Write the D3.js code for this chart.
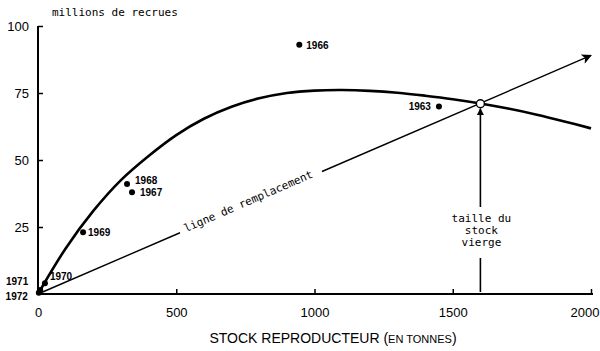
<!DOCTYPE html>
<html><head><meta charset="utf-8">
<script src="https://cdn.jsdelivr.net/npm/d3@7"></script>
<style>body{margin:0;background:#fff}svg{display:block}</style>
</head><body>
<svg id="c" width="600" height="351"></svg>
<script>
// Data
const years = ["1966","1963","1968","1967","1969","1970","1971","1972"];
const stock = [945, 1450, 322, 340, 163, 25, 8, 3];
const recruits = [93, 70, 41, 38, 23, 4, 1.5, 0.5];
const curveStock = [0,100,200,300,400,500,600,700,800,900,1000,1100,1200,1300,1400,1500,1600,1700,1800,1900,2000];
const curveRecruits = [0,17,31,42.5,51.5,59.3,65.4,69.9,73,75,75.9,76.1,75.8,75.1,74,72.7,71.1,69.2,67,64.5,61.8];
const replStock = [0, 2000];
const replRecruits = [0, 89];
const virginStock = 1600, virginRecruits = 71;
const xTicks = [0,500,1000,1500,2000];
const yTicks = [25,50,75,100];

const svg = d3.select("#c");
const x = d3.scaleLinear().domain([0,2000]).range([38,591]);
const y = d3.scaleLinear().domain([0,100]).range([294,26]);
const sans = "Liberation Sans, Arial, sans-serif";
const mono = "DejaVu Sans Mono, Liberation Mono, monospace";

// Axes
const xAxis = d3.axisBottom(x).tickValues(xTicks).tickSize(-5).tickFormat(d=>d);
const gx = svg.append("g").attr("transform",`translate(0,${y(0)})`).call(xAxis);
gx.select(".domain").attr("d",`M${x(0)},0H${x(2000)+2}`).attr("stroke-width",2);
gx.selectAll(".tick line").attr("stroke-width",1.5);
gx.selectAll(".tick text").attr("y",14).attr("font-family",sans).attr("font-size",13).attr("fill","#000");
gx.selectAll(".tick text").filter(d=>d===2000).attr("text-anchor","end").attr("x",599-x(2000));

const yAxis = d3.axisLeft(y).tickValues(yTicks).tickSize(-5).tickFormat(d=>d);
const gy = svg.append("g").attr("transform",`translate(${x(0)},0)`).call(yAxis);
gy.select(".domain").attr("d",`M0,${y(0)}V${y(100)}`).attr("stroke-width",2);
gy.selectAll(".tick line").attr("stroke-width",1.5);
gy.selectAll(".tick text").attr("x",-9).attr("font-family",sans).attr("font-size",13).attr("fill","#000");

// Axis titles
svg.append("text").attr("x",52).attr("y",16).attr("font-family",mono).attr("font-size",11)
  .text("millions de recrues");
const xt = svg.append("text").attr("x",333).attr("y",343).attr("text-anchor","middle")
  .attr("font-family","Liberation Sans Narrow, "+sans).attr("font-size",14);
xt.append("tspan").text("STOCK REPRODUCTEUR (");
xt.append("tspan").attr("font-size",11).text("EN TONNES");
xt.append("tspan").text(")");

// Defs: arrowheads
const defs = svg.append("defs");
defs.append("marker").attr("id","ah").attr("viewBox","0 0 10 10").attr("refX",9).attr("refY",5)
  .attr("markerWidth",14).attr("markerHeight",10).attr("markerUnits","userSpaceOnUse").attr("orient","auto")
  .append("path").attr("d","M0,0L10,5L0,10L2.5,5Z").attr("fill","#000");
defs.append("marker").attr("id","ah2").attr("viewBox","0 0 10 10").attr("refX",9).attr("refY",5)
  .attr("markerWidth",10).attr("markerHeight",7).attr("markerUnits","userSpaceOnUse").attr("orient","auto")
  .append("path").attr("d","M0,0L10,5L0,10Z").attr("fill","#000");

// Replacement line (broken for label)
const x0 = x(replStock[0]), y0 = y(replRecruits[0]), x1 = x(replStock[1]), y1 = y(replRecruits[1]);
const ang = Math.atan2(y1-y0, x1-x0) * 180/Math.PI;
const at = px => [px, y0 + (px-x0)/(x1-x0)*(y1-y0)];
svg.append("line").attr("x1",x0).attr("y1",y0).attr("x2",at(180)[0]).attr("y2",at(180)[1])
  .attr("stroke","#000").attr("stroke-width",1.4);
svg.append("line").attr("x1",at(322)[0]).attr("y1",at(322)[1]).attr("x2",x1).attr("y2",y1)
  .attr("stroke","#000").attr("stroke-width",1.4).attr("marker-end","url(#ah)");
svg.append("text").attr("transform",`translate(${at(186)[0]},${at(186)[1]+2}) rotate(${ang})`)
  .attr("font-family",mono).attr("font-size",11).text("ligne de remplacement");

// Stock-recruitment curve
svg.append("path").datum(curveStock.map((s,i)=>[s,curveRecruits[i]]))
  .attr("d", d3.line().x(d=>x(d[0])).y(d=>y(d[1])).curve(d3.curveCatmullRom.alpha(0.5)))
  .attr("fill","none").attr("stroke","#000").attr("stroke-width",2.6);

// Vertical arrow to virgin stock
const vx = x(virginStock), vy = y(virginRecruits);
svg.append("line").attr("x1",vx).attr("x2",vx).attr("y1",y(0)-2).attr("y2",258).attr("stroke","#000").attr("stroke-width",1.6);
svg.append("line").attr("x1",vx).attr("x2",vx).attr("y1",207).attr("y2",vy+5).attr("stroke","#000").attr("stroke-width",1.6)
  .attr("marker-end","url(#ah2)");
const vt = svg.append("text").attr("text-anchor","middle").attr("font-family",mono).attr("font-size",11);
["taille du","stock","vierge"].forEach((t,i)=>vt.append("tspan").attr("x",vx+1).attr("y",222+i*12).text(t));
svg.append("circle").attr("cx",vx).attr("cy",vy).attr("r",4).attr("fill","#fff").attr("stroke","#000").attr("stroke-width",1.4);

// Points
const pts = years.map((yr,i)=>({yr, s:stock[i], r:recruits[i]}));
svg.selectAll("circle.pt").data(pts).enter().append("circle").attr("class","pt")
  .attr("cx",d=>x(d.s)).attr("cy",d=>y(d.r)).attr("r",3).attr("fill","#000");
const lab = {
  "1966":[7,4,"start"], "1963":[-8,4,"end"], "1968":[8,0,"start"], "1967":[8,4,"start"],
  "1969":[5,4,"start"], "1970":[5,-3,"start"], "1971":[-12,-5,"end"], "1972":[-11,7,"end"]
};
svg.selectAll("text.pl").data(pts).enter().append("text").attr("class","pl")
  .attr("x",d=>x(d.s)+lab[d.yr][0]).attr("y",d=>y(d.r)+lab[d.yr][1]).attr("text-anchor",d=>lab[d.yr][2])
  .attr("font-family",sans).attr("font-size",10).attr("font-weight","bold").text(d=>d.yr);
</script>
</body></html>
